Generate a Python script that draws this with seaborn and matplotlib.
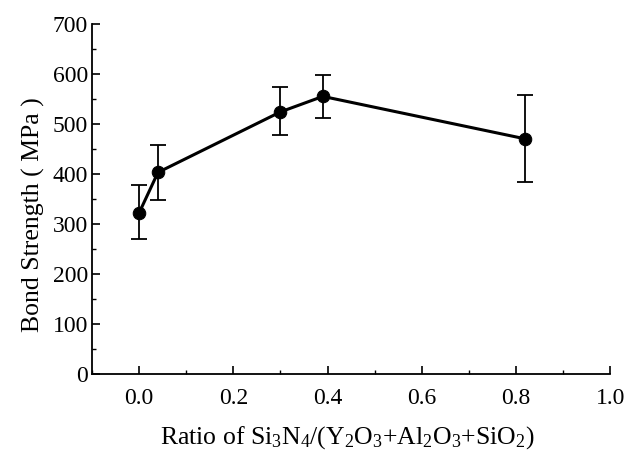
import matplotlib
matplotlib.use("Agg")
import matplotlib.pyplot as plt
import seaborn as sns
import pandas as pd
from matplotlib.ticker import MultipleLocator

# Data
ratio = [0.0, 0.04, 0.30, 0.39, 0.82]
strength = [322, 403, 524, 555, 470]
err_low = [52, 56, 47, 44, 86]
err_high = [56, 54, 49, 42, 88]

sns.set_style("ticks")
plt.rcParams["font.family"] = ["Liberation Serif", "DejaVu Serif"]
plt.rcParams["mathtext.fontset"] = "custom"
plt.rcParams["mathtext.rm"] = "Liberation Serif"
plt.rcParams["mathtext.default"] = "rm"
plt.rcParams["text.color"] = "black"
plt.rcParams["axes.labelcolor"] = "black"
plt.rcParams["xtick.color"] = "black"
plt.rcParams["ytick.color"] = "black"

df = pd.DataFrame({"ratio": ratio, "strength": strength})

fig = plt.figure(figsize=(6.39, 4.51), dpi=100)
ax = fig.add_axes([0.144, 0.171, 0.811, 0.776])

ax.errorbar(ratio, strength, yerr=[err_low, err_high], fmt="none",
            ecolor="black", elinewidth=1.3, capsize=5.5, capthick=1.3, zorder=2)
sns.lineplot(data=df, x="ratio", y="strength", ax=ax, color="black",
             linewidth=2.2, marker="o", markersize=9, markeredgecolor="black",
             zorder=3)

ax.set_xlim(-0.1, 1.0)
ax.set_ylim(0, 700)
ax.xaxis.set_major_locator(MultipleLocator(0.2))
ax.xaxis.set_minor_locator(MultipleLocator(0.1))
ax.yaxis.set_major_locator(MultipleLocator(100))
ax.yaxis.set_minor_locator(MultipleLocator(50))
ax.xaxis.set_major_formatter(matplotlib.ticker.FormatStrFormatter("%.1f"))

ax.tick_params(which="both", direction="in", labelsize=17)
ax.tick_params(which="major", length=6, width=1.2)
ax.tick_params(which="minor", length=3, width=1.0)
ax.tick_params(axis="x", pad=10)
ax.tick_params(axis="y", pad=3)

for s in ["top", "right"]:
    ax.spines[s].set_visible(False)
for s in ["left", "bottom"]:
    ax.spines[s].set_color("black")
    ax.spines[s].set_linewidth(1.3)

ax.set_xlabel("Ratio of Si$_3$N$_4$/(Y$_2$O$_3$+Al$_2$O$_3$+SiO$_2$)",
              fontsize=18.5, va="baseline")
ax.xaxis.set_label_coords(347.5 / 639, 1 - 444 / 451, transform=fig.transFigure)
ax.set_ylabel("Bond Strength ( MPa )", fontsize=18.5, va="center")
ax.yaxis.set_label_coords(33 / 639, 1 - 215 / 451, transform=fig.transFigure)

fig.savefig("out.png", dpi=100)
